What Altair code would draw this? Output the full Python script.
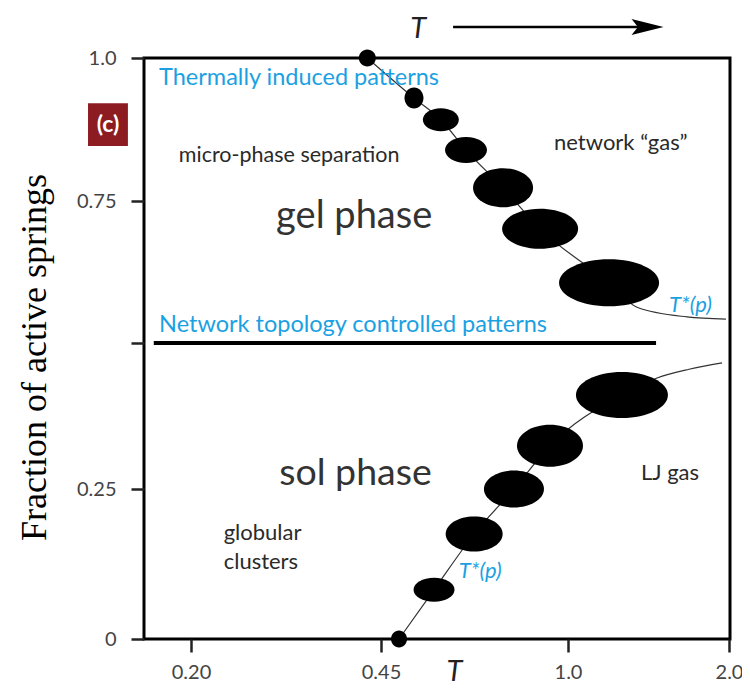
import altair as alt
import pandas as pd

# ---------------- data ----------------
t_ticks = [0.20, 0.45, 1.0, 2.0]
f_ticks = [0.0, 0.25, 0.5, 0.75, 1.0]

# upper branch: gel phase -> network "gas" (cluster centres and sizes)
gel_T = [0.432, 0.547, 0.626, 0.700, 0.809, 0.918, 1.255]
gel_f = [1.000, 0.930, 0.892, 0.839, 0.773, 0.701, 0.606]
gel_w = [17, 19, 36, 42, 60, 76, 100]
gel_h = [17, 21, 23, 26, 39, 40, 47]
gel_tail_T = [1.429, 1.739, 1.981]
gel_tail_f = [0.563, 0.546, 0.542]

# lower branch: sol phase -> LJ gas
sol_T = [0.503, 0.606, 0.724, 0.841, 0.947, 1.335]
sol_f = [0.000, 0.082, 0.175, 0.250, 0.324, 0.411]
sol_w = [16, 41, 57, 60, 66, 92]
sol_h = [17, 24, 35, 37, 42, 46]
sol_tail_T = [1.553, 1.752, 1.957]
sol_tail_f = [0.440, 0.455, 0.466]

# separator between the two regimes
sep_T = [0.151, 1.547]
sep_f = 0.5

BLUE = "#1BA1E2"
DARK = "#2a2a2a"
FONT = "Lato"

# ---------------- scales / axes ----------------
xs = alt.Scale(domain=t_ticks, range=[47, 237, 424, 585], nice=False, zero=False)
ys = alt.Scale(domain=f_ticks, range=[581, 431, 285, 143, 0], nice=False, zero=False)

xaxis = alt.Axis(
    values=t_ticks,
    labelExpr="datum.value == 0.2 ? '0.20' : datum.value == 0.45 ? '0.45' : format(datum.value, '.1f')",
    title="T", titleFont=FONT, titleFontStyle="italic", titleFontSize=29,
    titleFontWeight="normal", titleColor="#222", titleX=310, titleY=41,
    titleBaseline="alphabetic", titleAlign="center",
    domain=False, grid=False, tickSize=13, tickWidth=2.5, tickColor="#222",
    labelFont=FONT, labelFontSize=20, labelColor="#444", labelPadding=10,
    labelFlush=False, labelOverlap=False, labelBound=False,
)
yaxis = alt.Axis(
    values=f_ticks,
    labelExpr="datum.value == 1 ? '1.0' : datum.value == 0 ? '0' : datum.value == 0.5 ? '' : format(datum.value, '.2f')",
    title="Fraction of active springs", titleFont="Liberation Serif", titleFontSize=36,
    titleFontWeight="normal", titleColor="black", titleAngle=270,
    titleX=-99, titleY=299, titleAlign="center", titleBaseline="alphabetic",
    domain=False, grid=False, tickSize=13, tickWidth=2.5, tickColor="#222",
    labelFont=FONT, labelFontSize=20, labelColor="#444", labelPadding=15,
    labelFlush=False, labelOverlap=False,
)

X = alt.X("T:Q", scale=xs, axis=xaxis)
Y = alt.Y("f:Q", scale=ys, axis=yaxis)


def ellipse_path(w, h):
    a = w / h
    return (f"M {-a:.3f},0 A {a:.3f},1 0 1,1 {a:.3f},0 "
            f"A {a:.3f},1 0 1,1 {-a:.3f},0 Z")


# ---------------- tables ----------------
line_rows = []
for i, (t, f) in enumerate(zip(gel_T + gel_tail_T, gel_f + gel_tail_f)):
    line_rows.append({"branch": "gel", "o": i, "T": t, "f": f})
for i, (t, f) in enumerate(zip(sol_T + sol_tail_T, sol_f + sol_tail_f)):
    line_rows.append({"branch": "sol", "o": i, "T": t, "f": f})
lines_df = pd.DataFrame(line_rows)

cl_rows = []
for i, (t, f, w, h) in enumerate(zip(gel_T, gel_f, gel_w, gel_h)):
    cl_rows.append({"id": f"g{i}", "T": t, "f": f, "s": h * h, "path": ellipse_path(w, h)})
for i, (t, f, w, h) in enumerate(zip(sol_T, sol_f, sol_w, sol_h)):
    cl_rows.append({"id": f"s{i}", "T": t, "f": f, "s": h * h, "path": ellipse_path(w, h)})
cl_df = pd.DataFrame(cl_rows)

sep_df = pd.DataFrame({"T": [sep_T[0]], "T2": [sep_T[1]], "f": [sep_f]})

labels_df = pd.DataFrame({
    "text": ["Thermally induced patterns", "micro-phase separation", "gel phase",
             "network \u201cgas\u201d", "Network topology controlled patterns",
             "sol phase", "LJ gas", "globular", "clusters"],
    "T": [0.158, 0.184, 0.312, 0.959, 0.158, 0.316, 1.453, 0.243, 0.243],
    "f": [0.953, 0.818, 0.702, 0.839, 0.519, 0.257, 0.265, 0.165, 0.117],
    "fs": [23.5, 21.5, 38, 22, 23.5, 37.5, 22, 22, 22],
    "col": [BLUE, DARK, "#333333", DARK, BLUE, "#333333", DARK, DARK, DARK],
})

tstar_df = pd.DataFrame({"text": ["T*(p)", "T*(p)"], "T": [1.627, 0.679], "f": [0.555, 0.102]})

top_T_df = pd.DataFrame({"text": ["T"], "T": [0.559], "f": [1.035]})
arrow_df = pd.DataFrame({"T": [0.662], "T2": [1.47], "f": [1.054]})
head_df = pd.DataFrame({"T": [1.494], "f": [1.054]})

tag_box_df = pd.DataFrame({"T": [0.0645], "T2": [0.117], "f": [0.921], "f2": [0.846]})
tag_df = pd.DataFrame({"text": ["(c)"], "T": [0.0908], "f": [0.883]})

# ---------------- layers ----------------
lines = alt.Chart(lines_df).mark_line(
    color="#333", strokeWidth=1.2, interpolate="monotone"
).encode(x=X, y=Y, detail="branch:N", order="o:Q")

clusters = alt.Chart(cl_df).mark_point(
    filled=True, fill="black", opacity=1, strokeWidth=0
).encode(
    x=X, y=Y,
    shape=alt.Shape("id:N", scale=alt.Scale(domain=list(cl_df["id"]), range=list(cl_df["path"])), legend=None),
    size=alt.Size("s:Q", scale=None),
)

sep = alt.Chart(sep_df).mark_rule(color="black", strokeWidth=4).encode(
    x=X, x2="T2:Q", y=Y)

labels = alt.Chart(labels_df).mark_text(
    align="left", baseline="alphabetic", font=FONT
).encode(
    x=X, y=Y, text="text:N",
    size=alt.Size("fs:Q", scale=None),
    color=alt.Color("col:N", scale=None),
)

tstar = alt.Chart(tstar_df).mark_text(
    align="left", baseline="alphabetic", font=FONT, fontStyle="italic",
    fontSize=22, color=BLUE
).encode(x=X, y=Y, text="text:N")

top_T = alt.Chart(top_T_df).mark_text(
    align="center", baseline="alphabetic", font=FONT, fontStyle="italic",
    fontSize=29, color="#222"
).encode(x=X, y=Y, text="text:N")

arrow = alt.Chart(arrow_df).mark_rule(color="black", strokeWidth=2.5).encode(
    x=X, x2="T2:Q", y=Y)

head = alt.Chart(head_df).mark_point(
    shape="M 1,0 L -1,-0.5 L -0.6,0 L -1,0.5 Z", size=1024,
    filled=True, fill="black", opacity=1, strokeWidth=0
).encode(x=X, y=Y)

tag_box = alt.Chart(tag_box_df).mark_rect(color="#8C1C22").encode(
    x=X, x2="T2:Q", y=Y, y2="f2:Q")

tag = alt.Chart(tag_df).mark_text(
    align="center", baseline="middle", font=FONT, fontWeight="bold",
    fontSize=23, color="white"
).encode(x=X, y=Y, text="text:N")

chart = alt.layer(
    sep, lines, clusters, labels, tstar, top_T, arrow, head, tag_box, tag
).properties(
    width=586, height=581,
    autosize=alt.AutoSizeParams(type="none"),
    padding={"left": 136, "top": 50, "right": 12, "bottom": 48},
    background="white",
).configure_view(
    stroke="black", strokeWidth=3
)

chart.save("out.html", embed_options={"renderer": "svg", "actions": False})
